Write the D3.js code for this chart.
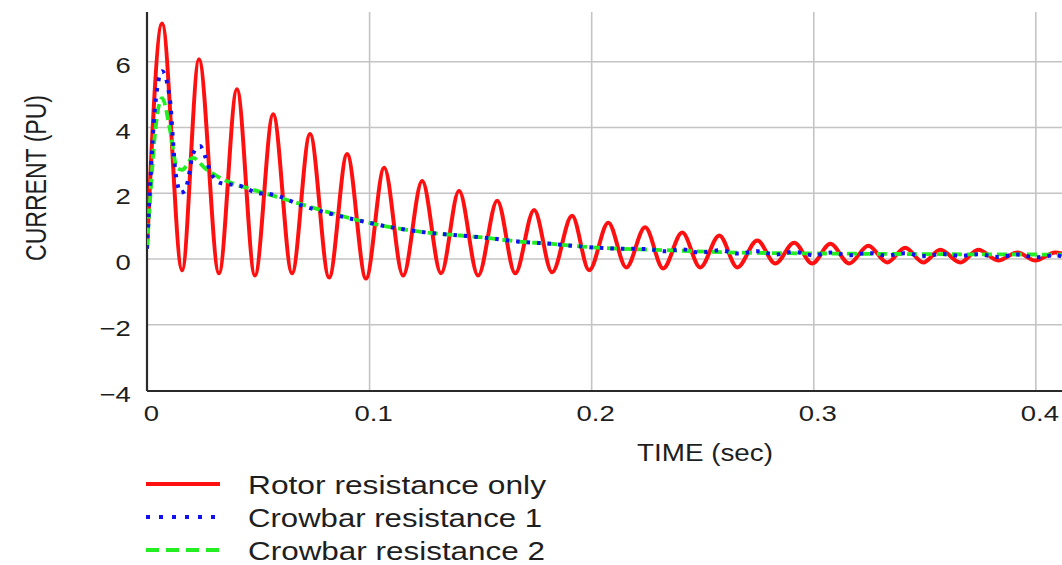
<!DOCTYPE html>
<html lang="en">
<head>
<meta charset="utf-8">
<title>rotor current</title>
<script src="https://d3js.org/d3.v7.min.js"></script>
<style>
  body { margin: 0; background: #fff; }
  text { font-family: "Liberation Sans", Arial, sans-serif; fill: #1e1e1e; }
</style>
</head>
<body>
<svg id="chart" width="1062" height="565"></svg>
<script>
// values (time in sec, current in pu)
var redTime = [0, 0.0068, 0.0158, 0.0234, 0.0324, 0.0405, 0.0486, 0.0568, 0.0653, 0.0734, 0.0820, 0.0901, 0.0986, 0.1068, 0.1153, 0.1239, 0.1324, 0.1405, 0.1491, 0.1577, 0.1658, 0.1743, 0.1824, 0.1914, 0.1991, 0.2077, 0.2158, 0.2243, 0.2324, 0.2410, 0.2491, 0.2577, 0.2658, 0.2748, 0.2829, 0.2914, 0.2995, 0.3077, 0.3162, 0.3248, 0.3333, 0.3414, 0.3495, 0.3572, 0.3662, 0.3743, 0.3833, 0.3919, 0.4000, 0.4090, 0.4120]
var redCurrent = [0.3, 7.15, -0.36, 6.06, -0.45, 5.15, -0.52, 4.39, -0.45, 3.79, -0.58, 3.18, -0.61, 2.76, -0.52, 2.36, -0.45, 2.06, -0.52, 1.76, -0.45, 1.48, -0.42, 1.30, -0.36, 1.09, -0.27, 0.95, -0.30, 0.79, -0.27, 0.70, -0.27, 0.55, -0.15, 0.48, -0.15, 0.45, -0.15, 0.39, -0.12, 0.33, -0.12, 0.27, -0.12, 0.27, -0.06, 0.18, -0.06, 0.18, 0.15]

var blueTime = [0, 0.0014, 0.0036, 0.0068, 0.0104, 0.0117, 0.0126, 0.0135, 0.0149, 0.0171, 0.0185, 0.0207, 0.0239, 0.0261, 0.0284, 0.0329, 0.0419, 0.0495, 0.0563, 0.0703, 0.0815, 0.0959, 0.1108, 0.1261, 0.1410, 0.1514, 0.1667, 0.1815, 0.1964, 0.2117, 0.2250, 0.2330, 0.2410, 0.2490, 0.2580, 0.2660, 0.2750, 0.2830, 0.2910, 0.3000, 0.3080, 0.3160, 0.3250, 0.3330, 0.3410, 0.3500, 0.3580, 0.3660, 0.3740, 0.3830, 0.3920, 0.4000, 0.4090, 0.4120]
var blueCurrent = [0.3, 2.2, 4.6, 5.7, 4.8, 3.6, 2.76, 2.36, 2.0, 2.06, 2.4, 3.18, 3.42, 3.12, 2.67, 2.30, 2.21, 2.0, 1.95, 1.6, 1.38, 1.15, 0.94, 0.79, 0.70, 0.64, 0.52, 0.45, 0.36, 0.30, 0.29, 0.22, 0.28, 0.18, 0.25, 0.15, 0.22, 0.12, 0.20, 0.10, 0.18, 0.10, 0.17, 0.09, 0.16, 0.08, 0.14, 0.08, 0.13, 0.05, 0.12, 0.04, 0.10, 0.06]

var greenTime = [0, 0.0014, 0.0036, 0.0068, 0.0104, 0.0135, 0.0158, 0.0207, 0.0261, 0.0329, 0.0464, 0.0613, 0.0811, 0.0959, 0.1108, 0.1261, 0.1410, 0.1514, 0.1667, 0.1815, 0.1964, 0.2117, 0.2266, 0.2671, 0.3122, 0.3617, 0.4120]
var greenCurrent = [0.3, 1.8, 3.8, 4.88, 3.9, 2.76, 2.70, 3.06, 2.75, 2.45, 2.12, 1.82, 1.42, 1.15, 0.94, 0.79, 0.70, 0.64, 0.52, 0.45, 0.36, 0.30, 0.27, 0.18, 0.15, 0.13, 0.12]

var seriesNames = ["Rotor resistance only", "Crowbar resistance 1", "Crowbar resistance 2"]
var xTicks = [0, 0.1, 0.2, 0.3, 0.4]
var yTicks = [-4, -2, 0, 2, 4, 6]

// size
var W = 1062, H = 565
var plotLeft = 147, plotTop = 12, plotRight = 1062, plotBottom = 390
var stretch = 1.25   // text in the picture is drawn a bit wide

var svg = d3.select("#chart")

var x = d3.scaleLinear().domain([0, 0.412]).range([plotLeft, plotRight])
var y = d3.scaleLinear().domain([-4, 7.5]).range([plotBottom, plotTop])

// grid
svg.append("g")
  .attr("transform", "translate(0," + plotBottom + ")")
  .call(d3.axisBottom(x).tickValues(xTicks.slice(1)).tickSize(-(plotBottom - plotTop)).tickFormat(""))
  .call(g => g.select(".domain").remove())
  .selectAll("line").attr("stroke", "#c4c4c4").attr("stroke-width", 1.6)

svg.append("g")
  .attr("transform", "translate(" + plotLeft + ",0)")
  .call(d3.axisLeft(y).tickValues(yTicks.slice(1)).tickSize(-(plotRight - plotLeft)).tickFormat(""))
  .call(g => g.select(".domain").remove())
  .selectAll("line").attr("stroke", "#c4c4c4").attr("stroke-width", 1.6)

// axis labels
var xAxis = svg.append("g")
  .attr("transform", "translate(0," + plotBottom + ")")
  .call(d3.axisBottom(x).tickValues(xTicks).tickSize(0).tickPadding(15).tickFormat(d3.format("")))
xAxis.select(".domain").remove()
xAxis.selectAll("text")
  .attr("font-size", 22).attr("fill", "#1e1e1e")
  .attr("transform", "translate(4,0) scale(" + stretch + ",1)")

var yAxis = svg.append("g")
  .attr("transform", "translate(" + plotLeft + ",0)")
  .call(d3.axisLeft(y).tickValues(yTicks).tickSize(0).tickPadding(13))
yAxis.select(".domain").remove()
yAxis.selectAll("text")
  .attr("font-size", 22).attr("fill", "#1e1e1e").attr("dy", "0.5em")
  .attr("transform", "scale(" + stretch + ",1)")

// axis lines
svg.append("line").attr("x1", plotLeft).attr("x2", plotLeft).attr("y1", plotTop).attr("y2", plotBottom + 1)
  .attr("stroke", "#2a2a2a").attr("stroke-width", 2.2)
svg.append("line").attr("x1", plotLeft).attr("x2", plotRight).attr("y1", plotBottom + 1).attr("y2", plotBottom + 1)
  .attr("stroke", "#2a2a2a").attr("stroke-width", 2.2)

// titles
svg.append("text").attr("x", 705).attr("y", 461).attr("text-anchor", "middle")
  .attr("font-size", 23).attr("textLength", 136).attr("lengthAdjust", "spacingAndGlyphs")
  .text("TIME (sec)")
svg.append("text").attr("text-anchor", "middle")
  .attr("font-size", 23).attr("textLength", 166).attr("lengthAdjust", "spacingAndGlyphs")
  .attr("transform", "translate(46,178) rotate(-90) scale(1," + stretch + ")")
  .text("CURRENT (PU)")

// curves
svg.append("clipPath").attr("id", "plot")
  .append("rect").attr("x", plotLeft).attr("y", 0).attr("width", plotRight - plotLeft).attr("height", plotBottom)

var line = d3.line().x(d => x(d[0])).y(d => y(d[1])).curve(d3.curveMonotoneX)
function pairs(t, v) { return t.map((d, i) => [d, v[i]]) }

var series = [
  { name: seriesNames[0], data: pairs(redTime, redCurrent), color: "#ff1010", width: 4, dash: null },
  { name: seriesNames[2], data: pairs(greenTime, greenCurrent), color: "#22ee22", width: 3.8, dash: "10,5" },
  { name: seriesNames[1], data: pairs(blueTime, blueCurrent), color: "#1010f0", width: 4, dash: "3.5,7" }
]

svg.append("g").attr("clip-path", "url(#plot)")
  .selectAll("path").data(series).enter().append("path")
  .attr("d", d => line(d.data))
  .attr("fill", "none")
  .attr("stroke", d => d.color)
  .attr("stroke-width", d => d.width)
  .attr("stroke-dasharray", d => d.dash)

// legend
var legendRows = [
  { name: seriesNames[0], color: "#ff1010", dash: null, len: 298 },
  { name: seriesNames[1], color: "#1010f0", dash: "4,9", len: 294 },
  { name: seriesNames[2], color: "#22ee22", dash: "13,7", len: 297 }
]
var lg = svg.append("g").selectAll("g").data(legendRows).enter().append("g")
  .attr("transform", (d, i) => "translate(0," + (484 + i * 33) + ")")
lg.append("line").attr("x1", 146).attr("x2", 220).attr("y1", 0).attr("y2", 0)
  .attr("stroke", d => d.color).attr("stroke-width", 4).attr("stroke-dasharray", d => d.dash)
lg.append("text").attr("x", 248).attr("y", 10)
  .attr("font-size", 25).attr("textLength", d => d.len).attr("lengthAdjust", "spacingAndGlyphs")
  .text(d => d.name)
</script>
</body>
</html>
